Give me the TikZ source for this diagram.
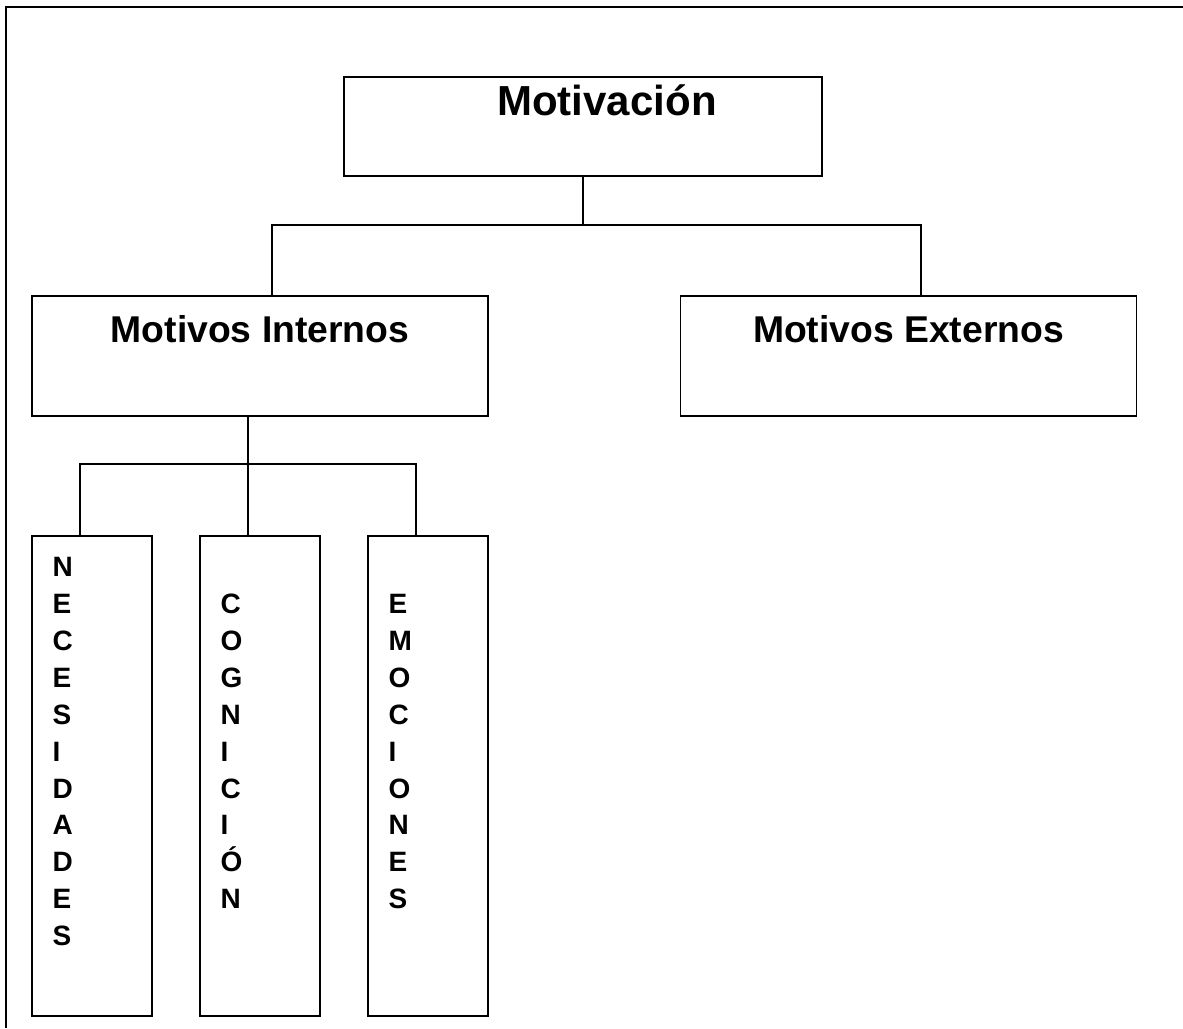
\documentclass[tikz,border=0pt]{standalone}
\usepackage{fontspec}
\setmainfont{Liberation Sans}
\usetikzlibrary{calc}

\newcommand{\letratope}{\rule{0pt}{10pt}}

\tikzset
{
	caja/.style =
	{
		draw			= black,
		line width		= 0.8pt,
		inner sep		= 0pt
	},
	titulo/.style =
	{
		minimum width	= 239pt,
		minimum height	= 49.5pt,
		text height		= 19pt,
		text depth		= 30.5pt,
		font			= \fontsize{21}{25}\selectfont\bfseries
	},
	rama/.style =
	{
		minimum width	= 228pt,
		minimum height	= 60pt,
		text height		= 23pt,
		text depth		= 37pt,
		font			= \fontsize{18.65}{22}\selectfont\bfseries
	},
	columna/.style =
	{
		minimum width	= 60pt,
		minimum height	= 240pt
	},
	letras/.style =
	{
		inner sep		= 0pt,
		anchor			= north west,
		align			= left,
		font			= \fontsize{14}{18.45}\selectfont\bfseries
	},
	conector/.style =
	{
		draw			= black,
		line width		= 0.7pt
	},
	marco/.style =
	{
		draw			= black,
		line width		= 1pt
	}
}

\begin{document}
\begin{tikzpicture}[x=0.5pt, y=-0.5pt]
		%
		\useasboundingbox (0,0) rectangle (1183,1028);
		%
		% marco de la pagina
		\draw[marco] (6,1028) -- (6,7) -- (1183,7);
		%
		% cajas
		\node[caja, titulo] (motiv) at (583,126.5) {\hspace*{24pt}Motivación};
		\node[caja, rama] (intern) at (260,356) {Motivos Internos};
		\node[caja, rama] (extern) at (908.5,356) {Motivos Externos};
		\node[caja, columna] (nec) at (92,776) {};
		\node[caja, columna] (cog) at (260,776) {};
		\node[caja, columna] (emo) at (428,776) {};
		%
		% textos verticales
		\node[letras] (nectxt) at ($(nec.north west)+(21,21)$)
			{\letratope N\\E\\C\\E\\S\\I\\D\\A\\D\\E\\S};
		\node[letras] (cogtxt) at ($(cog.north west)+(21,21)$)
			{\letratope\\C\\O\\G\\N\\I\\C\\I\\Ó\\N};
		\node[letras] (emotxt) at ($(emo.north west)+(21,21)$)
			{\letratope\\E\\M\\O\\C\\I\\O\\N\\E\\S};
		%
		% conectores
		\draw[conector] (motiv.south) -- ++(0,48) coordinate (nudo1);
		\draw[conector] ($(intern.north)+(12,0)$) |- (nudo1) -| ($(extern.north)+(12.5,0)$);
		\draw[conector] ($(intern.south)+(-12,0)$) -- ++(0,47) coordinate (nudo2)
			-- ($(cog.north)+(-12,0)$);
		\draw[conector] ($(nec.north)+(-12,0)$) |- (nudo2) -| ($(emo.north)+(-12,0)$);
		%
	\end{tikzpicture}
\end{document}
